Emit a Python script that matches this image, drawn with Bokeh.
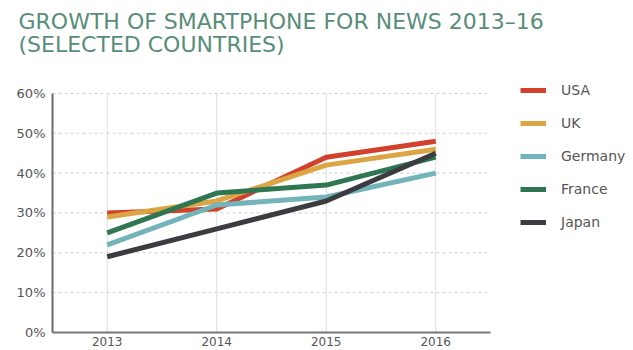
from bokeh.plotting import figure
from bokeh.models import Legend, LegendItem, FixedTicker, Range1d
from bokeh.embed import file_html
from bokeh.resources import INLINE

years = [2013, 2014, 2015, 2016]
year_labels = ["2013", "2014", "2015", "2016"]
countries = ["USA", "UK", "Germany", "France", "Japan"]
usa = [30, 31, 44, 48]
uk = [29, 33, 42, 46]
germany = [22, 32, 34, 40]
france = [25, 35, 37, 44]
japan = [19, 26, 33, 45]
series = [usa, uk, germany, france, japan]
colors = ["#d2412b", "#dca544", "#72b4ba", "#2f7652", "#3b3c40"]
y_ticks = [0, 10, 20, 30, 40, 50, 60]
y_tick_labels = ["0%", "10%", "20%", "30%", "40%", "50%", "60%"]
title_lines = ["GROWTH OF SMARTPHONE FOR NEWS 2013\u201316", "(SELECTED COUNTRIES)"]

FONT = "DejaVu Sans"
TXT = "#555555"
TITLE_COLOR = "#588d78"

# layout geometry (pixels)
W, H = 633, 350
LEFT, RIGHT_DATA, TOP_FRAME, TOP_DATA, BOTTOM = 52, 490, 66, 92, 332
x0, x1 = years[0] - 0.5, years[-1] + 0.5
y0, y1 = y_ticks[0], y_ticks[-1]
px_x = (RIGHT_DATA - LEFT) / (x1 - x0)
px_y = (BOTTOM - TOP_DATA) / (y1 - y0)
x_end = x1 + (W - RIGHT_DATA) / px_x
y_end = y1 + (TOP_DATA - TOP_FRAME) / px_y

p = figure(width=W, height=H, output_backend="svg", toolbar_location=None,
           x_range=Range1d(x0, x_end), y_range=Range1d(y0, y_end),
           min_border_left=LEFT, min_border_right=0, min_border_top=TOP_FRAME,
           min_border_bottom=H - BOTTOM)
p.outline_line_color = None
p.background_fill_color = "white"
p.border_fill_color = "white"
p.xgrid.visible = False
p.ygrid.visible = False

# two-line title
p.title.text = "\n".join(title_lines)
p.title.align = "left"
p.title.vertical_align = "top"
p.title.offset = -34
p.title.standoff = 17
p.title.text_font = FONT
p.title.text_font_size = "22px"
p.title.text_font_style = "normal"
p.title.text_line_height = 0.9
p.title.text_color = TITLE_COLOR

# grid lines drawn within the data area
gy = y_ticks[1:]
p.segment(x0=[x0] * len(gy), y0=gy, x1=[x1] * len(gy), y1=gy,
          line_color="#cccccc", line_width=1, line_dash="3 3")
p.segment(x0=years, y0=[y0] * len(years), x1=years, y1=[y1] * len(years),
          line_color="#dddddd", line_width=1)

# x axis
xax = p.xaxis[0]
xax.bounds = (x0, x1)
xax.ticker = FixedTicker(ticks=years)
xax.major_label_overrides = {t: l for t, l in zip(years, year_labels)}
xax.major_tick_line_color = None
xax.major_tick_out = 0
xax.major_tick_in = 0
xax.minor_tick_line_color = None
xax.axis_line_color = "#777777"
xax.axis_line_width = 2
xax.major_label_text_font = FONT
xax.major_label_text_font_size = "12px"
xax.major_label_text_color = TXT
xax.major_label_standoff = 4

# y axis
yax = p.yaxis[0]
yax.bounds = (y0, y1)
yax.ticker = FixedTicker(ticks=y_ticks)
yax.major_label_overrides = {t: l for t, l in zip(y_ticks, y_tick_labels)}
yax.major_tick_line_color = None
yax.major_tick_out = 0
yax.major_tick_in = 0
yax.minor_tick_line_color = None
yax.axis_line_color = "#6b6b6b"
yax.axis_line_width = 2
yax.major_label_text_font = FONT
yax.major_label_text_font_size = "13px"
yax.major_label_text_color = TXT
yax.major_label_standoff = 7

items = []
for name, vals, c in zip(countries, series, colors):
    r = p.line(years, vals, line_color=c, line_width=5)
    items.append(LegendItem(label=name, renderers=[r]))

# legend: rows centred at ~90..221 px, glyph starting at x=520
legend = Legend(items=items, location=(520 - LEFT, BOTTOM - 231),
                border_line_color=None, background_fill_alpha=0,
                padding=0, margin=0,
                glyph_width=26, glyph_height=18, label_height=18, spacing=15,
                label_standoff=15, label_text_font=FONT, label_text_font_size="14px",
                label_text_color=TXT, label_text_baseline="middle")
p.add_layout(legend, "center")

open("out.html", "w").write(file_html(p, INLINE))
